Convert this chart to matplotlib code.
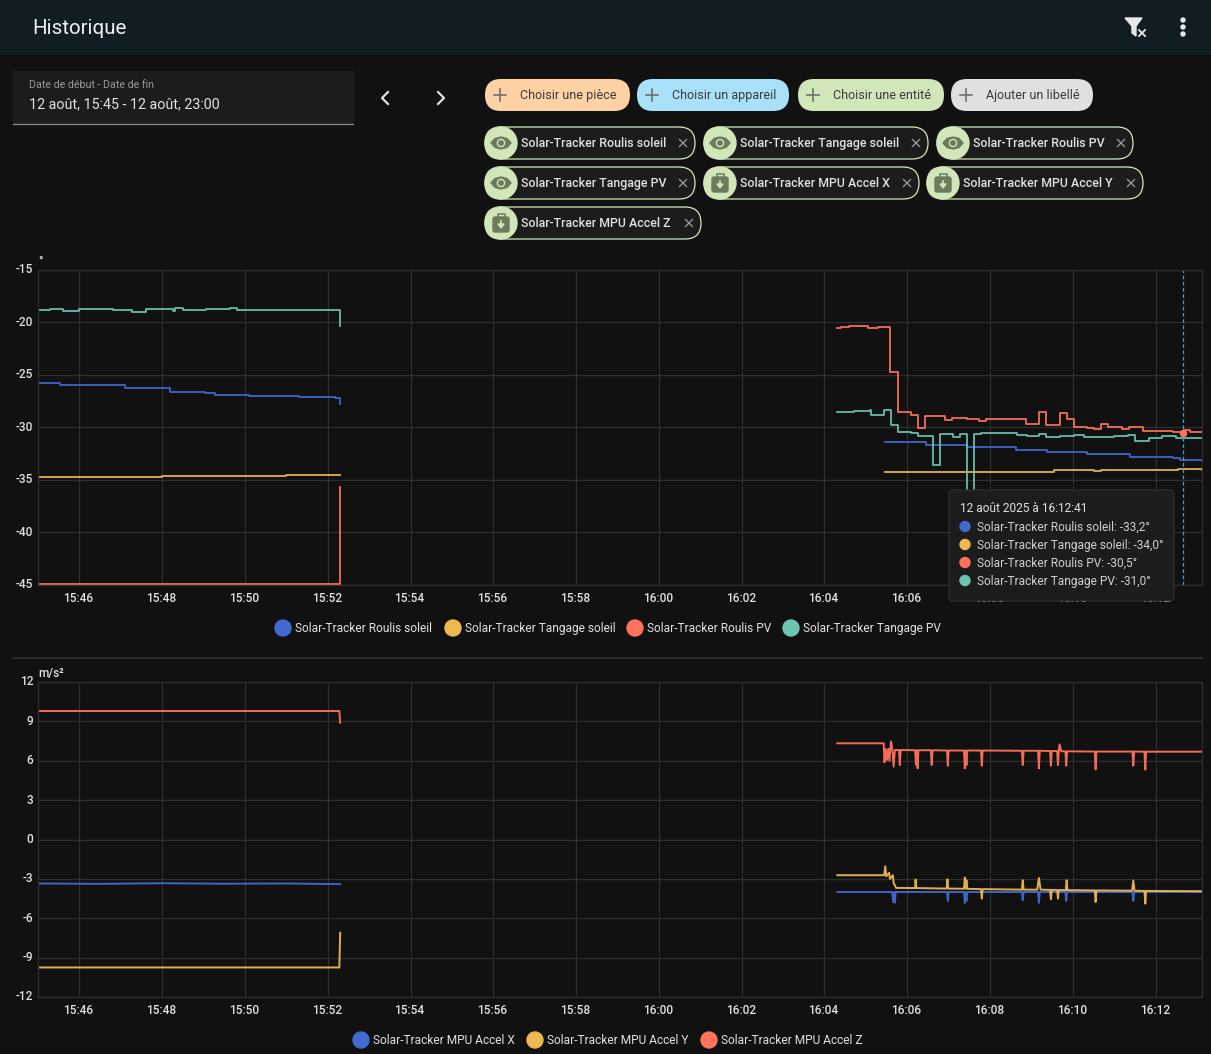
import matplotlib
matplotlib.use("Agg")
import matplotlib.pyplot as plt
from matplotlib.patches import Circle, FancyBboxPatch, Polygon, Rectangle
from matplotlib.transforms import ScaledTranslation

plt.rcParams["font.family"] = ["Roboto", "DejaVu Sans"]

BG = "#111111"
GRID = "#2e2e2e"
TEXT = "#e1e1e1"
BLUE = "#4269d0"
YELLOW = "#efb950"
RED = "#ff725c"
GREEN = "#6cc5b0"

# time axis: minutes after 15:45
tick_minutes = [1, 3, 5, 7, 9, 11, 13, 15, 17, 19, 21, 23, 25, 27]
tick_labels = ["15:46", "15:48", "15:50", "15:52", "15:54", "15:56", "15:58",
               "16:00", "16:02", "16:04", "16:06", "16:08", "16:10", "16:12"]

angle_ticks = [-15, -20, -25, -30, -35, -40, -45]
accel_ticks = [12, 9, 6, 3, 0, -3, -6, -9, -12]

angle_names = ["Solar-Tracker Roulis soleil", "Solar-Tracker Tangage soleil",
               "Solar-Tracker Roulis PV", "Solar-Tracker Tangage PV"]
accel_names = ["Solar-Tracker MPU Accel X", "Solar-Tracker MPU Accel Y",
               "Solar-Tracker MPU Accel Z"]

# angles, first block
roulis_soleil_t1 = [0, 0.53, 2.1, 3.19, 4.03, 4.28, 5.1, 6.3, 7.17, 7.3]
roulis_soleil_v1 = [-25.76, -25.95, -26.24, -26.62, -26.71, -26.9, -27.0, -27.1, -27.19, -27.8]
tangage_soleil_t1 = [0, 3.0, 6.0, 7.3]
tangage_soleil_v1 = [-34.7, -34.6, -34.5, -34.5]
roulis_pv_t1 = [0, 7.28, 7.3]
roulis_pv_v1 = [-44.9, -44.9, -35.7]
tangage_pv_t1 = [0, 0.29, 0.61, 1.0, 1.5, 1.82, 2.26, 2.62, 3.27, 3.3, 3.5, 4.07, 4.64, 4.8, 7.28, 7.3]
tangage_pv_v1 = [-18.85, -18.73, -18.92, -18.76, -18.73, -18.82, -19.01, -18.69, -18.89,
                 -18.66, -18.82, -18.69, -18.63, -18.85, -18.85, -20.32]

# angles, second block
roulis_soleil_t2 = [20.45, 21.46, 22.45, 23.62, 24.38, 25.35, 26.39, 27.43, 27.59, 28.13]
roulis_soleil_v2 = [-31.39, -31.64, -31.87, -32.15, -32.34, -32.5, -32.85, -32.91, -33.1, -33.2]
tangage_soleil_t2 = [20.45, 22.45, 24.54, 25.5, 25.67, 27.35, 27.55, 28.13]
tangage_soleil_v2 = [-34.21, -34.21, -34.09, -34.12, -34.05, -34.09, -33.93, -34.05]
roulis_pv_t2 = [19.31, 19.4, 19.6, 19.8, 20.04, 20.29, 20.59, 20.77, 21.09, 21.26, 21.43, 21.92,
                22.09, 22.45, 22.73, 22.91, 23.5, 23.86, 24.18, 24.36, 24.69, 24.85, 25.02,
                25.34, 25.5, 25.68, 25.84, 26.19, 26.35, 26.69, 26.95, 27.43, 27.68, 27.83, 28.13]
roulis_pv_v2 = [-20.5, -20.41, -20.32, -20.38, -20.48, -20.41, -24.7, -28.57, -28.85, -30.06,
                -28.88, -29.3, -29.07, -29.23, -29.4, -29.2, -29.23, -29.7, -28.57, -29.74,
                -28.6, -29.23, -29.93, -30.03, -30.12, -29.68, -29.99, -30.15, -29.93, -30.34,
                -30.31, -30.41, -30.25, -30.47, -30.47]
tangage_pv_t2 = [19.31, 19.72, 20.11, 20.13, 20.29, 20.43, 20.6, 20.77, 21.09, 21.27, 21.61, 21.78,
                 22.11, 22.27, 22.44, 22.6, 22.78, 23.64, 23.9, 24.18, 24.34, 24.7, 25.02, 25.26,
                 25.67, 25.99, 26.33, 26.51, 26.83, 27.15, 27.5, 28.13]
tangage_pv_v2 = [-28.53, -28.47, -28.31, -28.82, -28.79, -28.34, -29.77, -30.41, -30.56, -30.82,
                 -33.58, -30.66, -30.91, -30.66, -37.0, -30.63, -30.56, -30.72, -30.82, -30.63,
                 -30.88, -30.79, -30.72, -30.91, -30.88, -30.79, -30.76, -31.29, -31.01, -30.82,
                 -31.01, -31.01]

# accelerations, first block
accel_x_t1 = [0, 1.5, 3.0, 4.5, 6.0, 7.3]
accel_x_v1 = [-3.35, -3.38, -3.33, -3.37, -3.35, -3.4]
accel_y_t1 = [0, 7.28, 7.3]
accel_y_v1 = [-9.75, -9.75, -7.1]
accel_z_t1 = [0, 7.28, 7.3]
accel_z_v1 = [9.79, 9.79, 8.9]

# accelerations, second block (spikes written out point by point)
accel_x_t2 = [19.31, 20.64, 20.66, 20.69, 20.7, 20.72, 21.96, 21.98, 22.0, 22.37, 22.39, 22.41,
              22.43, 22.45, 23.77, 23.79, 23.81, 24.16, 24.18, 24.2, 24.82, 24.84, 24.86,
              26.44, 26.46, 26.48, 28.13]
accel_x_v2 = [-4.0, -4.0, -4.76, -4.0, -4.83, -4.0, -4.0, -4.68, -4.0, -4.0, -4.83, -4.0,
              -4.68, -4.0, -4.0, -4.63, -4.0, -4.0, -4.83, -4.0, -4.0, -4.68, -4.0,
              -4.0, -4.68, -4.0, -4.0]
accel_y_t2 = [19.31, 20.44, 20.47, 20.49, 20.56, 20.58, 20.62, 20.65, 20.67, 20.73, 21.19, 21.2, 21.22,
              21.95, 21.97, 21.99, 22.37, 22.39, 22.41, 22.43, 22.45, 22.78, 22.8, 22.82,
              23.77, 23.79, 23.81, 24.14, 24.18, 24.22, 24.45, 24.47, 24.49, 24.62, 24.64, 24.66,
              24.83, 24.85, 24.87, 25.53, 25.55, 25.57, 26.43, 26.46, 26.49, 26.73, 26.75, 26.77, 28.13]
accel_y_v2 = [-2.72, -2.72, -2.04, -2.8, -2.54, -3.0, -2.85, -2.72, -3.3, -3.69, -3.7, -3.05, -3.7,
              -3.74, -3.03, -3.74, -3.75, -2.9, -3.75, -3.1, -3.76, -3.78, -4.5, -3.78,
              -3.82, -3.1, -3.82, -3.82, -2.93, -3.82, -3.84, -4.55, -3.84, -3.85, -4.5, -3.85,
              -3.86, -3.1, -3.86, -3.88, -4.76, -3.88, -3.9, -3.13, -3.9, -3.92, -4.89, -3.92, -3.94]
accel_z_t2 = [19.31, 20.43, 20.45, 20.48, 20.51, 20.54, 20.57, 20.59, 20.61, 20.64, 20.67, 20.7,
              20.8, 20.82, 20.84, 21.19, 21.21, 21.23, 21.25, 21.27, 21.57, 21.59, 21.61,
              21.96, 21.98, 22.0, 22.37, 22.39, 22.41, 22.43, 22.45, 22.78, 22.8, 22.82,
              23.77, 23.79, 23.81, 24.16, 24.18, 24.2, 24.45, 24.47, 24.49, 24.62, 24.64, 24.66,
              24.68, 24.72, 24.82, 24.84, 24.86, 25.53, 25.55, 25.57, 26.44, 26.46, 26.48,
              26.73, 26.75, 26.77, 28.13]
accel_z_v2 = [7.33, 7.33, 5.88, 6.9, 6.06, 6.9, 6.0, 6.9, 7.46, 6.82, 5.55, 6.82,
              6.82, 5.67, 6.82, 6.8, 5.7, 6.8, 5.42, 6.8, 6.8, 5.67, 6.8,
              6.78, 5.62, 6.78, 6.78, 5.42, 6.78, 5.67, 6.78, 6.78, 5.62, 6.78,
              6.76, 5.67, 6.76, 6.76, 5.42, 6.76, 6.74, 5.62, 6.74, 6.74, 5.67, 6.74,
              7.25, 6.72, 6.72, 5.62, 6.72, 6.7, 5.34, 6.7, 6.7, 5.62, 6.7,
              6.69, 5.32, 6.69, 6.69]

hover_time = 27.66
hover_value = -30.5
tooltip_title = "12 août 2025 à 16:12:41"
tooltip_rows = ["Solar-Tracker Roulis soleil: -33,2°", "Solar-Tracker Tangage soleil: -34,0°",
                "Solar-Tracker Roulis PV: -30,5°", "Solar-Tracker Tangage PV: -31,0°"]

W, H = 1211, 1054


def px_axes(fig, x0, y0, x1, y1):
    return fig.add_axes([x0 / W, 1 - y1 / H, (x1 - x0) / W, (y1 - y0) / H])


def style_chart(ax, yticks, ylim):
    ax.set_facecolor(BG)
    ax.set_xlim(0, 28.12)
    ax.set_ylim(*ylim)
    ax.set_xticks(tick_minutes, tick_labels)
    ax.set_yticks(yticks)
    ax.set_yticklabels([str(v) for v in yticks])
    ax.tick_params(length=0, labelsize=8.6, labelcolor=TEXT)
    ax.tick_params(axis="x", pad=5)
    ax.tick_params(axis="y", pad=3.4)
    ax.grid(True, color=GRID, linewidth=0.9)
    ax.set_axisbelow(True)
    for spine in ax.spines.values():
        spine.set_color(GRID)
        spine.set_linewidth(0.9)
    # y labels sit a little above their grid line
    shift_y = ScaledTranslation(0, 1.6 / fig.dpi, fig.dpi_scale_trans)
    shift_x = ScaledTranslation(-1.0 / fig.dpi, 0, fig.dpi_scale_trans)
    for label in ax.get_yticklabels() + ax.get_xticklabels():
        label.set_fontweight("medium")
    for label in ax.get_yticklabels():
        label.set_transform(label.get_transform() + shift_y)
    for label in ax.get_xticklabels():
        label.set_transform(label.get_transform() + shift_x)


def pill(ov, x0, y0, x1, y1, face, edge="none", lw=0.0, z=2):
    r = (y1 - y0) / 2
    ov.add_patch(FancyBboxPatch((x0 + r, y0 + r), x1 - x0 - 2 * r, 0,
                                boxstyle=f"round,pad={r},rounding_size={r}",
                                facecolor=face, edgecolor=edge, linewidth=lw, zorder=z))


def plus(ov, x, y, color="#707070"):
    ov.plot([x - 6, x + 6], [y, y], color=color, lw=1.2, zorder=3)
    ov.plot([x, x], [y - 6, y + 6], color=color, lw=1.2, zorder=3)


def cross(ov, x, y, s=3.5, color="#a0a0a0", lw=0.9):
    ov.plot([x - s, x + s], [y - s, y + s], color=color, lw=lw, zorder=3)
    ov.plot([x - s, x + s], [y + s, y - s], color=color, lw=lw, zorder=3)


def eye_icon(ov, x, y):
    c = "#6c7a5e"
    ov.add_patch(Polygon([(x - 10, y), (x - 6, y - 4.5), (x, y - 6), (x + 6, y - 4.5), (x + 10, y),
                          (x + 6, y + 4.5), (x, y + 6), (x - 6, y + 4.5)], closed=True, color=c, zorder=4))
    ov.add_patch(Circle((x, y), 3.6, color="#d2e7b9", zorder=5))
    ov.add_patch(Circle((x, y), 2.2, color=c, zorder=6))


def case_icon(ov, x, y):
    c = "#6c7a5e"
    ov.add_patch(Rectangle((x - 3.5, y - 9), 7, 4, fill=False, edgecolor=c, linewidth=1.1, zorder=4))
    ov.add_patch(FancyBboxPatch((x - 7, y - 5), 14, 13, boxstyle="round,pad=1,rounding_size=2", color=c, zorder=4))
    ov.plot([x, x], [y - 2, y + 2], color="#d2e7b9", lw=1.2, zorder=5)
    ov.add_patch(Polygon([(x - 3, y + 1), (x + 3, y + 1), (x, y + 5)], closed=True, color="#d2e7b9", zorder=5))


fig = plt.figure(figsize=(W / 100, H / 100), dpi=100, facecolor=BG)

ax1 = px_axes(fig, 38, 270, 1202, 585)
style_chart(ax1, angle_ticks, (-45, -15))
angle_blocks = [
    (roulis_soleil_t1, roulis_soleil_v1, roulis_soleil_t2, roulis_soleil_v2, BLUE),
    (tangage_soleil_t1, tangage_soleil_v1, tangage_soleil_t2, tangage_soleil_v2, YELLOW),
    (roulis_pv_t1, roulis_pv_v1, roulis_pv_t2, roulis_pv_v2, RED),
    (tangage_pv_t1, tangage_pv_v1, tangage_pv_t2, tangage_pv_v2, GREEN),
]
for t1, v1, t2, v2, color in angle_blocks:
    ax1.plot(t1, v1, color=color, lw=1.3, alpha=0.95, drawstyle="steps-post")
    ax1.plot(t2, v2, color=color, lw=1.3, alpha=0.95, drawstyle="steps-post")
ax1.axvline(hover_time, color="#3a9fdc", lw=0.9, ls=(0, (3, 2)))
ax1.plot([hover_time], [hover_value], "o", color=RED, ms=4.4)

ax2 = px_axes(fig, 38, 682, 1202, 997)
style_chart(ax2, accel_ticks, (-12, 12))
accel_blocks = [
    (accel_x_t1, accel_x_v1, accel_x_t2, accel_x_v2, BLUE),
    (accel_y_t1, accel_y_v1, accel_y_t2, accel_y_v2, YELLOW),
    (accel_z_t1, accel_z_v1, accel_z_t2, accel_z_v2, RED),
]
for t1, v1, t2, v2, color in accel_blocks:
    ax2.plot(t1, v1, color=color, lw=1.4, alpha=0.95)
    ax2.plot(t2, v2, color=color, lw=1.4, alpha=0.95)

# overlay in pixel coordinates for the page around the charts
ov = fig.add_axes([0, 0, 1, 1], zorder=5)
ov.set_xlim(0, W)
ov.set_ylim(H, 0)
ov.axis("off")
ov.patch.set_visible(False)

ov.add_patch(Rectangle((0, 0), W, 54, color="#101e24", zorder=1))
ov.text(32.5, 27, "Historique", color="#f0f0f0", fontsize=14.8, va="center_baseline", zorder=3)
ov.add_patch(Polygon([(1125, 18), (1142, 18), (1136, 26), (1136, 36), (1132, 33), (1132, 26)],
                     closed=True, color="#e8e8e8", zorder=3))
cross(ov, 1142, 33, s=3, color="#e8e8e8", lw=1.3)
for dot_y in [20, 27, 34]:
    ov.add_patch(Circle((1183, dot_y), 2, color="#e8e8e8", zorder=3))

ov.add_patch(Rectangle((13, 71), 340, 52, color="#1c1c1c", zorder=1))
ov.plot([13, 353], [123.5, 123.5], color="#8c8c8c", lw=0.9, zorder=2)
ov.text(29, 84.5, "Date de début - Date de fin", color="#9a9a9a", fontsize=7.7, va="center_baseline")
ov.text(29, 103, "12 août, 15:45 - 12 août, 23:00", color=TEXT, fontsize=10.3, va="center_baseline")
ov.plot([388, 382, 388], [92, 98, 104], color="#e8e8e8", lw=1.5)
ov.plot([438, 444, 438], [92, 98, 104], color="#e8e8e8", lw=1.5)

add_chips = [(485, 630, "#ffd2a6", "Choisir une pièce"), (637, 789, "#a9e1fb", "Choisir un appareil"),
             (798, 944, "#d2e7b9", "Choisir une entité"), (951, 1093, "#e0e0e0", "Ajouter un libellé")]
for x0, x1, face, label in add_chips:
    pill(ov, x0, 79, x1, 111, face)
    plus(ov, x0 + 15, 95)
    ov.text(x0 + 35, 94, label, color="#3a3a3a", fontsize=9.0, va="center_baseline", zorder=3)

entity_chips = [
    (485, 695, 143, angle_names[0], "eye"), (704, 928, 143, angle_names[1], "eye"),
    (937, 1133, 143, angle_names[2], "eye"), (485, 695, 183, angle_names[3], "eye"),
    (704, 919, 183, accel_names[0], "case"), (927, 1143, 183, accel_names[1], "case"),
    (485, 701, 223, accel_names[2], "case"),
]
for x0, x1, yc, label, icon in entity_chips:
    pill(ov, x0, yc - 16, x1, yc + 16, "#1c1c1c", edge="#d2e7b9", lw=0.9)
    ov.add_patch(Circle((x0 + 16, yc), 16, color="#d2e7b9", zorder=3))
    if icon == "eye":
        eye_icon(ov, x0 + 16, yc)
    else:
        case_icon(ov, x0 + 16, yc)
    ov.text(x0 + 36, yc - 1, label, color=TEXT, fontsize=8.95, fontweight="medium", va="center_baseline", zorder=3)
    cross(ov, x1 - 12, yc)

ov.text(38, 260, "°", color=TEXT, fontsize=8.6, fontweight="medium", va="center_baseline")
ov.text(38, 672, "m/s²", color=TEXT, fontsize=8.6, fontweight="medium", va="center_baseline")
ov.plot([13, 1202], [658, 658], color="#2f2f2f", lw=1.3)

legend1_colors = [BLUE, YELLOW, RED, GREEN]
legend1_x = [283, 453, 635, 791]
for name, color, x in zip(angle_names, legend1_colors, legend1_x):
    ov.add_patch(Circle((x, 628), 8, color=color))
    ov.text(x + 12, 627, name, color=TEXT, fontsize=8.6, va="center_baseline")

legend2_colors = [BLUE, YELLOW, RED]
legend2_x = [361, 535, 709]
for name, color, x in zip(accel_names, legend2_colors, legend2_x):
    ov.add_patch(Circle((x, 1040), 8, color=color))
    ov.text(x + 12, 1039, name, color=TEXT, fontsize=8.6, va="center_baseline")

# tooltip sits above the first chart
ov.add_patch(FancyBboxPatch((951, 492), 221, 107, boxstyle="round,pad=2,rounding_size=4",
                            facecolor="#1c1c1c", edgecolor="#303030", linewidth=0.8, zorder=6))
ov.text(960, 507.5, tooltip_title, color=TEXT, fontsize=8.6, va="center_baseline", zorder=7)
for row, color, y in zip(tooltip_rows, legend1_colors, [526.5, 544.5, 562.5, 580.5]):
    ov.add_patch(Circle((965, y), 5, color=color, zorder=7))
    ov.text(977, y - 1, row, color="#d0d0d0", fontsize=8.55, va="center_baseline", zorder=7)

fig.savefig("out.png", dpi=100, facecolor=BG)
